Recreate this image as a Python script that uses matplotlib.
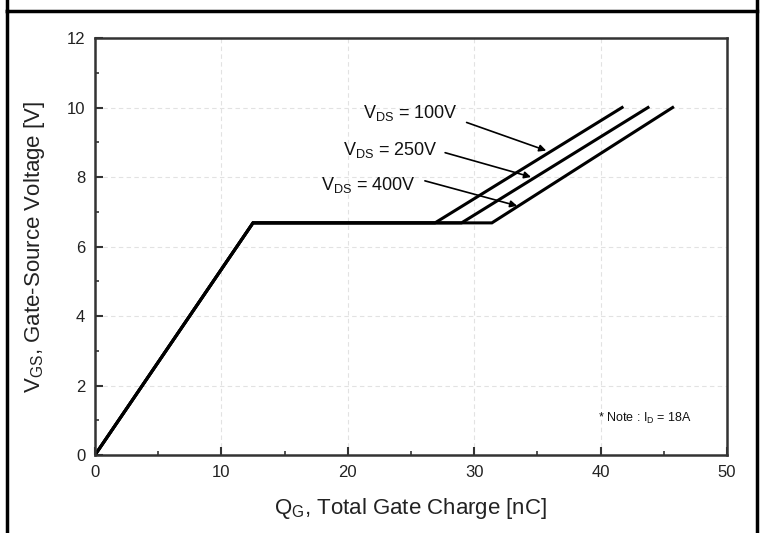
import matplotlib.pyplot as plt
from matplotlib.lines import Line2D
from matplotlib.ticker import MultipleLocator

plt.rcParams['font.family'] = ['Liberation Sans', 'DejaVu Sans']

# gate charge curves: (Qg [nC], Vgs [V])
ramp_q = [0, 12.5]
ramp_v = [0, 6.68]
plateau_v = 6.68
vds_labels = ["100V", "250V", "400V"]
plateau_end_q = [26.9, 29.0, 31.4]
top_q = [41.7, 43.75, 45.7]
top_v = 10.0

# annotation arrows: text position, arrow tail, arrow head
text_xy = [(21.2, 9.84), (19.6, 8.78), (17.9, 7.77)]
tail_xy = [(29.4, 9.57), (27.7, 8.70), (26.1, 7.89)]
head_xy = [(35.7, 8.76), (34.5, 8.0), (33.4, 7.17)]

fig = plt.figure(figsize=(7.63, 5.33), dpi=100)
ax = fig.add_axes([0.1245, 0.1463, 0.8283, 0.7824])

for pe, tq in zip(plateau_end_q, top_q):
    ax.plot(ramp_q + [pe, tq], ramp_v + [plateau_v, top_v],
            color='black', lw=2.2, solid_joinstyle='miter')

for lab, txy, tail, head in zip(vds_labels, text_xy, tail_xy, head_xy):
    ax.text(txy[0], txy[1], r"V$_{\mathregular{DS}}$ = " + lab,
            fontsize=13, va='center', ha='left', color='#111111')
    ax.annotate("", xy=head, xytext=tail,
                arrowprops=dict(arrowstyle='-|>', color='black', lw=1.2,
                                mutation_scale=10, shrinkA=0, shrinkB=0))

ax.text(47.2, 1.06, r"* Note : I$_{\mathregular{D}}$ = 18A", fontsize=9,
        ha='right', va='center', color='#111111')

ax.set_xlim(0, 50)
ax.set_ylim(0, 12)
ax.xaxis.set_major_locator(MultipleLocator(10))
ax.xaxis.set_minor_locator(MultipleLocator(5))
ax.yaxis.set_major_locator(MultipleLocator(2))
ax.yaxis.set_minor_locator(MultipleLocator(1))
ax.tick_params(which='major', direction='in', length=6, width=1.5, pad=7,
               labelsize=12, colors='#333333', labelcolor='#222222')
ax.tick_params(which='minor', direction='in', length=3, width=1.2, colors='#333333')
ax.grid(True, which='major', color='#e2e2e2', ls=(0, (4, 3)), lw=0.8)
for s in ax.spines.values():
    s.set_linewidth(1.8)
    s.set_color('#333333')

ax.set_xlabel(r"Q$_{\mathregular{G}}$, Total Gate Charge [nC]", fontsize=16,
              color='#222222', labelpad=12)
ax.set_ylabel(r"V$_{\mathregular{GS}}$, Gate-Source Voltage [V]", fontsize=16,
              color='#222222', labelpad=14)

# outer frame of the datasheet cell
for xs, ys in [([7 / 763, 7 / 763], [0, 1 - 11 / 533]),
               ([757 / 763, 757 / 763], [0, 1]),
               ([7 / 763, 757 / 763], [1 - 11 / 533, 1 - 11 / 533]),
               ([7 / 763, 7 / 763], [1 - 11 / 533, 1])]:
    fig.add_artist(Line2D(xs, ys, transform=fig.transFigure, color='black', lw=2.5))

fig.savefig('out.png', dpi=100)
